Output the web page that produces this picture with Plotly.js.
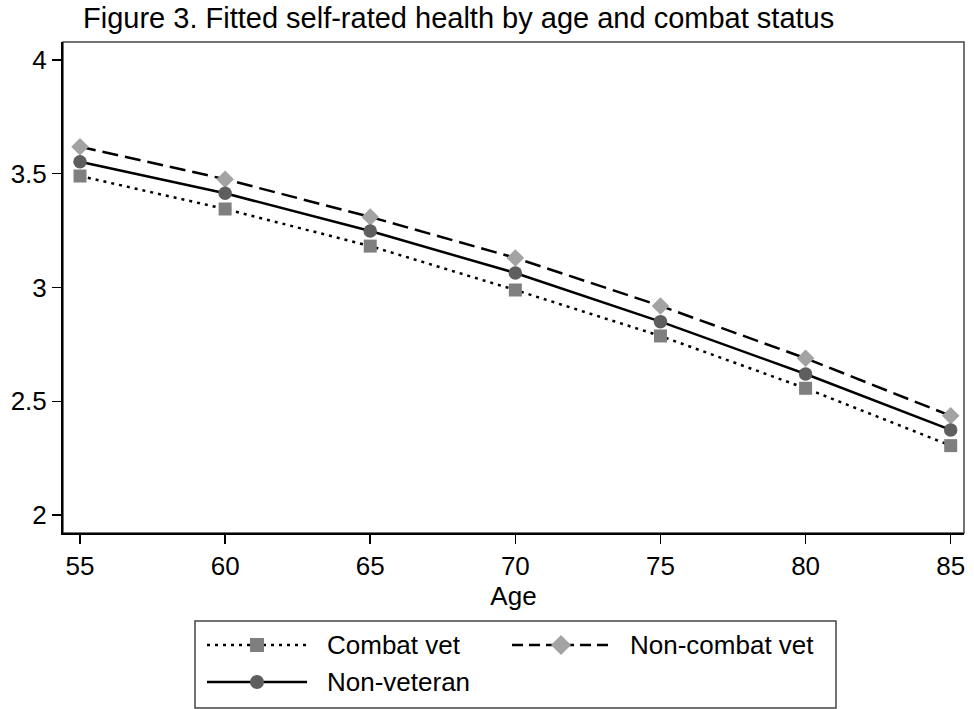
<!DOCTYPE html>
<html>
<head>
<meta charset="utf-8">
<script src="https://cdn.plot.ly/plotly-3.0.1.min.js"></script>
<style>
html,body{margin:0;padding:0;background:#fff;}
#chart{width:974px;height:709px;}
</style>
</head>
<body>
<div id="chart"></div>
<script>
// ---- data ----
var ages = [55, 60, 65, 70, 75, 80, 85];
var combatVet = [3.490, 3.345, 3.182, 2.989, 2.787, 2.557, 2.305];
var nonCombatVet = [3.619, 3.476, 3.310, 3.130, 2.919, 2.689, 2.436];
var nonVeteran = [3.553, 3.414, 3.248, 3.064, 2.850, 2.620, 2.374];
var seriesNames = ["Combat vet", "Non-combat vet", "Non-veteran"];
var yTickVals = [2, 2.5, 3, 3.5, 4];
var yTickText = ["2", "2.5", "3", "3.5", "4"];
var xTickVals = [55, 60, 65, 70, 75, 80, 85];

// ---- layout geometry ----
var W = 974, H = 709;
var M = {l: 63, r: 10, t: 42, b: 176};
var PW = W - M.l - M.r, PH = H - M.t - M.b;
function px(x) { return (x - M.l) / PW; }
function py(y) { return (H - M.b - y) / PH; }

var FONT = "Liberation Sans, Arial, Helvetica, sans-serif";
var colSquare = "#7f7f7f", colCircle = "#5e5e5e", colDiamond = "#a3a3a3";

var traces = [
  {x: ages, y: combatVet, name: seriesNames[0], mode: "lines+markers",
   line: {color: "#000", width: 2.5, dash: "3px,5px"},
   marker: {symbol: "square", size: 13, color: colSquare}, showlegend: false},
  {x: ages, y: nonCombatVet, name: seriesNames[1], mode: "lines+markers",
   line: {color: "#000", width: 2.5, dash: "16px,7px"},
   marker: {symbol: "diamond", size: 13.5, color: colDiamond}, showlegend: false},
  {x: ages, y: nonVeteran, name: seriesNames[2], mode: "lines+markers",
   line: {color: "#000", width: 2.5},
   marker: {symbol: "circle", size: 13.5, color: colCircle}, showlegend: false}
];

// custom legend (samples drawn like Stata's wide keys)
var shapes = [
  {type: "rect", xref: "paper", yref: "paper", x0: 0, x1: 1, y0: 0, y1: 1,
   line: {color: "#444", width: 1.5}, layer: "below"},
  {type: "rect", xref: "paper", yref: "paper", x0: px(195), x1: px(836), y0: py(621), y1: py(708),
   line: {color: "#444", width: 1.5}, fillcolor: "rgba(0,0,0,0)"}
];
var legendRows = [
  {x0: 207, x1: 307, y: 645, dash: "3px,5px", sym: "square", col: colSquare, tx: 325, label: seriesNames[0]},
  {x0: 512, x1: 610, y: 645, dash: "11px,6px", sym: "diamond", col: colDiamond, tx: 628, label: seriesNames[1]},
  {x0: 207, x1: 307, y: 682, dash: "solid", sym: "circle", col: colCircle, tx: 325, label: seriesNames[2]}
];
var annotations = [];
legendRows.forEach(function (r) {
  shapes.push({type: "line", xref: "paper", yref: "paper", x0: px(r.x0), x1: px(r.x1), y0: py(r.y), y1: py(r.y),
               line: {color: "#000", width: 2.5, dash: r.dash}});
  var cx = (r.x0 + r.x1) / 2;
  if (r.sym === "square") {
    shapes.push({type: "rect", xref: "paper", yref: "paper", x0: px(cx - 7), x1: px(cx + 7), y0: py(r.y - 7), y1: py(r.y + 7),
                 line: {width: 0}, fillcolor: r.col});
  } else if (r.sym === "circle") {
    shapes.push({type: "circle", xref: "paper", yref: "paper", x0: px(cx - 7), x1: px(cx + 7), y0: py(r.y - 7), y1: py(r.y + 7),
                 line: {width: 0}, fillcolor: r.col});
  } else {
    var d = 10;
    shapes.push({type: "path", xref: "paper", yref: "paper",
                 path: "M" + px(cx - d) + "," + py(r.y) + " L" + px(cx) + "," + py(r.y - d) + " L" + px(cx + d) + "," + py(r.y) + " L" + px(cx) + "," + py(r.y + d) + " Z",
                 line: {width: 0}, fillcolor: r.col});
  }
  annotations.push({xref: "paper", yref: "paper", x: px(r.tx), y: py(r.y), xanchor: "left", yanchor: "middle",
                    text: r.label, showarrow: false, font: {family: FONT, size: 26, color: "#000"}});
});

var layout = {
  width: W, height: H,
  margin: M,
  paper_bgcolor: "#fff", plot_bgcolor: "#fff",
  font: {family: FONT, size: 26, color: "#000"},
  title: {text: "Figure 3. Fitted self-rated health by age and combat status",
          font: {family: FONT, size: 29, color: "#000"},
          xref: "container", yref: "container", x: 83 / W, xanchor: "left", y: 1 - 18 / H, yanchor: "middle"},
  xaxis: {range: [54.414, 85.458], tickvals: xTickVals, ticks: "outside", ticklen: 9, tickwidth: 1.5, tickcolor: "#000",
          showline: true, linecolor: "#000", linewidth: 2, showgrid: false, zeroline: false,
          tickfont: {family: FONT, size: 26},
          title: {text: "Age", font: {family: FONT, size: 26}, standoff: 0}},
  yaxis: {range: [1.921, 4.079], tickvals: yTickVals, ticktext: yTickText, ticks: "outside", ticklen: 9, tickwidth: 1.5, tickcolor: "#000",
          showline: true, linecolor: "#000", linewidth: 2, showgrid: false, zeroline: false,
          tickfont: {family: FONT, size: 26}},
  shapes: shapes,
  annotations: annotations,
  showlegend: false
};

Plotly.newPlot("chart", traces, layout, {displayModeBar: false, staticPlot: true});
</script>
</body>
</html>
